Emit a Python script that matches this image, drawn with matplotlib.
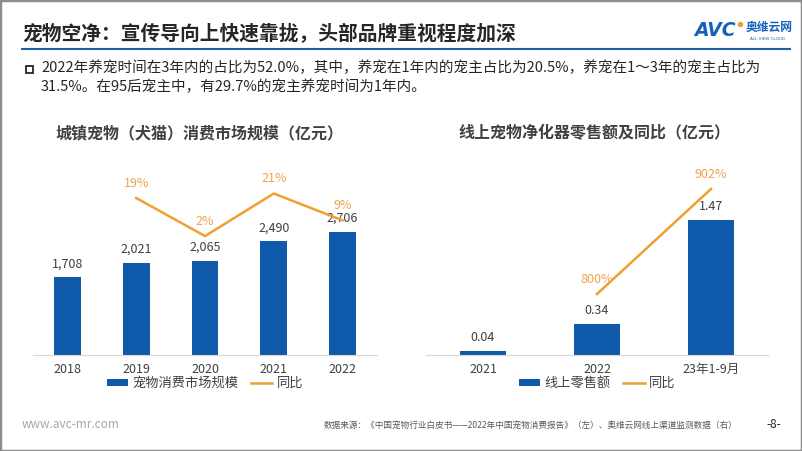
import matplotlib
matplotlib.use("Agg")
import matplotlib.pyplot as plt
from matplotlib.patches import Rectangle, Patch
from matplotlib.lines import Line2D

plt.rcParams['font.family'] = ['Noto Sans CJK SC', 'DejaVu Sans']

# Left chart data
left_years = ["2018", "2019", "2020", "2021", "2022"]
left_sales = [1708, 2021, 2065, 2490, 2706]
left_yoy = [None, 19, 2, 21, 9]

# Right chart data
right_periods = ["2021", "2022", "23年1-9月"]
right_sales = [0.04, 0.34, 1.47]
right_yoy = [None, 800, 902]

BLUE = "#0F5AAB"
ORANGE = "#F0A030"
ORANGE_TXT = "#F2A24C"
DARK = "#404040"

W, H = 802, 451
fig = plt.figure(figsize=(W / 100, H / 100), dpi=100)


def fx(px):
    return px / W


def fy(py):
    return 1 - py / H


# frame around slide
fig.patches.append(Rectangle((0, 0), 1, 1, transform=fig.transFigure, fill=False,
                             edgecolor="#8C8C8C", lw=2.5))

# header
fig.text(fx(22), fy(34), "宠物空净：宣传导向上快速靠拢，头部品牌重视程度加深",
         fontsize=14.2, fontweight="bold", color="#262626", va="center", ha="left")
fig.add_artist(Line2D([fx(22), fx(790)], [fy(49), fy(49)], color="#1F5FA8", lw=1.5))

# logo
fig.text(fx(694), fy(30), "AVC", fontsize=13.5, fontweight="bold", style="italic",
         color="#1560BD", va="center", ha="left", family="DejaVu Sans")
fig.add_artist(Line2D([fx(740)], [fy(24)], marker="o", markersize=3,
                      color="#F0A030", lw=0))
fig.text(fx(746), fy(27), "奥维云网", fontsize=8.5, fontweight="bold", color="#1560BD",
         va="center", ha="left")
fig.text(fx(768), fy(39), "ALL VIEW CLOUD", fontsize=3, color="#1560BD",
         va="center", ha="center", family="DejaVu Sans")

# bullet text
fig.patches.append(Rectangle((fx(26), fy(73)), fx(7), 7 / H, transform=fig.transFigure,
                             fill=False, edgecolor="#262626", lw=1.3))
fig.text(fx(41), fy(68),
         "2022年养宠时间在3年内的占比为52.0%，其中，养宠在1年内的宠主占比为20.5%，养宠在1～3年的宠主占比为",
         fontsize=10.5, color="#262626", va="center", ha="left")
fig.text(fx(41), fy(87), "31.5%。在95后宠主中，有29.7%的宠主养宠时间为1年内。",
         fontsize=10.5, color="#262626", va="center", ha="left")

# chart titles
fig.text(fx(200), fy(133), "城镇宠物（犬猫）消费市场规模（亿元）", fontsize=11.5,
         fontweight="bold", color=DARK, va="center", ha="center")
fig.text(fx(594), fy(133), "线上宠物净化器零售额及同比（亿元）", fontsize=11.5,
         fontweight="bold", color=DARK, va="center", ha="center")


def style_axes(ax):
    for s in ["top", "right", "left"]:
        ax.spines[s].set_visible(False)
    ax.spines["bottom"].set_color("#D9D9D9")
    ax.set_yticks([])
    ax.tick_params(axis="x", length=0, labelsize=9, labelcolor=DARK, pad=6)
    ax.patch.set_alpha(0)


# ---- left chart ----
ax1 = fig.add_axes([fx(33), fy(355), fx(344), (355 - 170) / H])
x1 = list(range(len(left_years)))
ax1.bar(x1, left_sales, width=0.39, color=BLUE)
ax1.set_xlim(-0.5, len(left_years) - 0.5)
ax1.set_ylim(0, 185 / 0.0456)
ax1.set_xticks(x1)
ax1.set_xticklabels(left_years)
style_axes(ax1)
for xi, v in zip(x1, left_sales):
    ax1.annotate(f"{v:,}", (xi, v), xytext=(0, 5), textcoords="offset points",
                 ha="center", va="bottom", fontsize=9, color=DARK)

ax1b = ax1.twinx()
ax1b.set_ylim(-51.1, 31.5)
ax1b.axis("off")
lx = [xi for xi, v in zip(x1, left_yoy) if v is not None]
lv = [v for v in left_yoy if v is not None]
ax1b.plot(lx, lv, color=ORANGE, lw=1.8)
for xi, v in zip(lx, lv):
    ax1b.annotate(f"{v}%", (xi, v), xytext=(0, 6), textcoords="offset points",
                  ha="center", va="bottom", fontsize=9, color=ORANGE_TXT)

h1 = [Patch(facecolor=BLUE), Line2D([0], [0], color=ORANGE, lw=1.8)]
ax1.legend(h1, ["宠物消费市场规模", "同比"], loc="center", bbox_to_anchor=(0.5, -0.155),
           ncol=2, frameon=False, fontsize=9.5, handlelength=1.6, handleheight=0.5,
           columnspacing=1.0, handletextpad=0.3, labelcolor=DARK)

# ---- right chart ----
ax2 = fig.add_axes([fx(426), fy(355), fx(342), (355 - 170) / H])
x2 = list(range(len(right_periods)))
ax2.bar(x2, right_sales, width=0.40, color=BLUE)
ax2.set_xlim(-0.5, len(right_periods) - 0.5)
ax2.set_ylim(0, 185 / 91.8)
ax2.set_xticks(x2)
ax2.set_xticklabels(right_periods)
style_axes(ax2)
for xi, v in zip(x2, right_sales):
    ax2.annotate(f"{v:.2f}", (xi, v), xytext=(0, 5), textcoords="offset points",
                 ha="center", va="bottom", fontsize=9, color=DARK)

ax2b = ax2.twinx()
ax2b.set_ylim(740.8, 920.4)
ax2b.axis("off")
rx = [xi for xi, v in zip(x2, right_yoy) if v is not None]
rv = [v for v in right_yoy if v is not None]
ax2b.plot(rx, rv, color=ORANGE, lw=1.8)
for xi, v in zip(rx, rv):
    ax2b.annotate(f"{v}%", (xi, v), xytext=(0, 6), textcoords="offset points",
                  ha="center", va="bottom", fontsize=9, color=ORANGE_TXT)

h2 = [Patch(facecolor=BLUE), Line2D([0], [0], color=ORANGE, lw=1.8)]
ax2.legend(h2, ["线上零售额", "同比"], loc="center", bbox_to_anchor=(0.5, -0.155),
           ncol=2, frameon=False, fontsize=9.5, handlelength=1.6, handleheight=0.5,
           columnspacing=1.0, handletextpad=0.3, labelcolor=DARK)

# footer
fig.text(fx(22), fy(425), "www.avc-mr.com", fontsize=8.5, color="#A6A6A6",
         va="center", ha="left")
fig.text(fx(737), fy(425),
         "数据来源：《中国宠物行业白皮书——2022年中国宠物消费报告》（左）、奥维云网线上渠道监测数据（右）",
         fontsize=6.2, color="#595959", va="center", ha="right")
fig.text(fx(774), fy(425), "-8-", fontsize=8.5, color="#262626",
         va="center", ha="center")

fig.savefig("out.png", dpi=100)
